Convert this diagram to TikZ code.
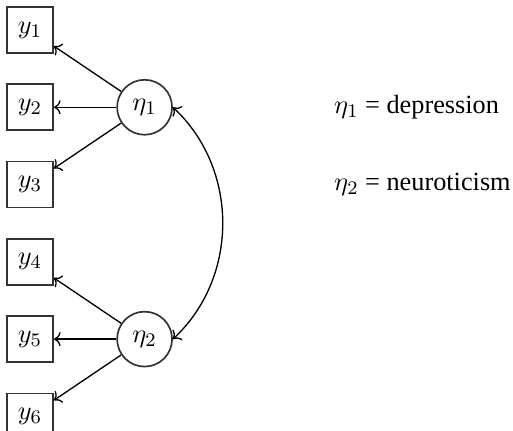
\documentclass[tikz,border=0pt,11pt]{standalone}
\usepackage{fontspec}
\setmainfont{Liberation Serif}
\usetikzlibrary{arrows.meta,positioning}

\begin{document}
\begin{tikzpicture}[
  node distance=12.3pt and 26pt,
  obs/.style={draw=black!80, line width=0.7pt, minimum size=19.2pt, inner sep=0pt},
  lat/.style={draw=black!80, line width=0.7pt, circle, minimum size=22.9pt, inner sep=0pt},
  arrow/.style={->, line width=0.55pt},
  legend/.style={anchor=west, inner sep=0pt}
]
\useasboundingbox (-12.5pt,12.5pt) rectangle (201.25pt,-166.7pt);

\node[obs] (y1) at (0,0) {$y_1$};
\node[obs, below=of y1] (y2) {$y_2$};
\node[obs, below=of y2] (y3) {$y_3$};
\node[obs, below=of y3] (y4) {$y_4$};
\node[obs, below=of y4] (y5) {$y_5$};
\node[obs, below=of y5] (y6) {$y_6$};

\node[lat, right=of y2] (eta1) {$\eta_1$};
\node[lat, right=of y5] (eta2) {$\eta_2$};

\draw[arrow] (eta1) -- (y1);
\draw[arrow] (eta1) -- (y2);
\draw[arrow] (eta1) -- (y3);
\draw[arrow] (eta2) -- (y4);
\draw[arrow] (eta2) -- (y5);
\draw[arrow] (eta2) -- (y6);

\draw[<->, line width=0.55pt] (eta1.east) to[bend left=47] (eta2.east);

\node[legend, right=67pt of eta1] (leg1) {$\eta_1$ = depression};
\node[legend] (leg2) at (leg1.west |- y3) {$\eta_2$ = neuroticism};
\end{tikzpicture}
\end{document}
